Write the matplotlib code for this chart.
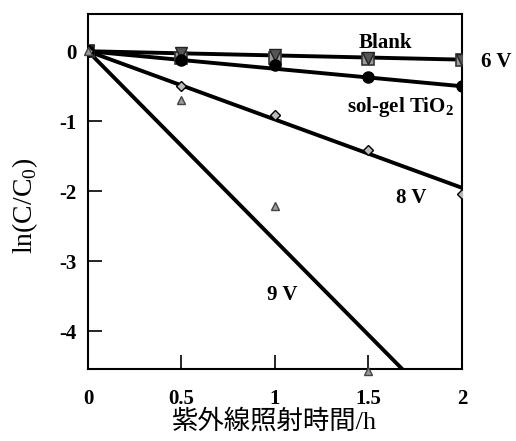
import matplotlib
matplotlib.use("Agg")
import matplotlib.pyplot as plt
import numpy as np

# irradiation time (h)
t = [0, 0.5, 1.0, 1.5, 2.0]

blank = [0, -0.03, -0.06, -0.10, -0.13]
v6 = [0, -0.10, -0.10, -0.11, -0.12]
solgel = [0, -0.13, -0.20, -0.37, -0.49]
v8 = [0, -0.49, -0.91, -1.41, -2.04]
v9 = [0, -0.69, -2.21, -4.56]

# fitted slopes for the straight lines
slope_blank = -0.06
slope_solgel = -0.25
slope_v8 = -0.975
slope_v9 = -2.70

serif = ["Liberation Serif", "DejaVu Serif"]
cjk = ["Liberation Serif", "Noto Sans CJK JP"]

plt.rcParams["mathtext.fontset"] = "custom"
plt.rcParams["mathtext.rm"] = "Liberation Serif"
plt.rcParams["mathtext.bf"] = "Liberation Serif:bold"

fig = plt.figure(figsize=(5.16, 4.41), dpi=100)
ax = fig.add_axes([0.1705, 0.163, 0.7245, 0.805])

xs = np.array([0, 2.0])
for s in (slope_blank, slope_solgel, slope_v8, slope_v9):
    ax.plot(xs, s * xs, color="black", lw=2.8, solid_capstyle="butt", zorder=2)

ax.plot(t, v6, ls="none", marker="s", ms=8, mfc="#9a9a9a", mec="#333333", mew=1.2, zorder=3)
ax.plot(t, blank, ls="none", marker="v", ms=8, mfc="#555555", mec="#222222", mew=1.0, zorder=4)
ax.plot(t, solgel, ls="none", marker="o", ms=8, mfc="black", mec="black", zorder=4)
ax.plot(t, v8, ls="none", marker="D", ms=5, mfc="#bbbbbb", mec="black", mew=1.0, zorder=4)
ax.plot(t[:4], v9, ls="none", marker="^", ms=6, mfc="#999999", mec="#444444", mew=1.0,
        zorder=4, clip_on=False)

ax.set_xlim(0, 2)
ax.set_ylim(-4.54, 0.53)
ax.set_xticks([0, 0.5, 1, 1.5, 2])
ax.set_xticklabels(["0", "0.5", "1", "1.5", "2"])
ax.set_yticks([0, -1, -2, -3, -4])
ax.set_yticklabels(["0", "-1", "-2", "-3", "-4"])
ax.tick_params(direction="in", length=10, width=1.2, pad=14)
ax.tick_params(axis="y", pad=8)
for lab in ax.get_xticklabels() + ax.get_yticklabels():
    lab.set_family(serif)
    lab.set_fontweight("bold")
    lab.set_fontsize(15)
for sp in ax.spines.values():
    sp.set_linewidth(1.5)

tb = dict(family=serif, fontweight="bold", fontsize=15)
ax.text(1.45, 0.05, "Blank", **tb)
ax.text(2.10, -0.23, "6 V", **tb)
ax.text(1.385, -0.87, r"sol-gel TiO$_\mathbf{2}$", **tb)
ax.text(1.65, -2.17, "8 V", **tb)
ax.text(0.96, -3.56, "9 V", **tb)

ax.set_ylabel("ln(C/C$_0$)", family=serif, fontsize=20)
ax.yaxis.set_label_coords(-0.128, 0.46)
ax.set_xlabel("紫外線照射時間/h", family=cjk, fontsize=19, labelpad=0)

fig.savefig("out.png", dpi=100)
